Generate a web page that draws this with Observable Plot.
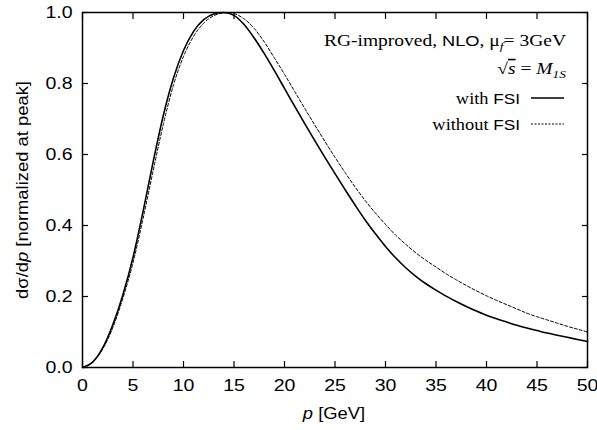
<!DOCTYPE html>
<html><head><meta charset="utf-8">
<script src="https://cdn.jsdelivr.net/npm/d3@7"></script>
<script src="https://cdn.jsdelivr.net/npm/@observablehq/plot@0.6"></script>
<style>body{margin:0;background:#fff}</style>
</head><body><div id="chart"></div>
<script>
const pWith = [0,1,2,3,4,5,6,7,8,9,10,11,12,13,14,15,16,17,18,19,20,21,22,23,24,25,26,27,28,29,30,31,32,33,34,35,36,37,38,39,40,41,42,43,44,45,46,47,48,49,50];
const vWith = [0,0.015,0.055,0.12,0.205,0.31,0.44,0.58,0.71,0.815,0.893,0.947,0.980,0.996,1.0,0.992,0.966,0.928,0.884,0.836,0.786,0.736,0.687,0.639,0.592,0.546,0.501,0.457,0.415,0.377,0.341,0.309,0.281,0.257,0.236,0.218,0.201,0.186,0.172,0.159,0.147,0.137,0.128,0.119,0.111,0.104,0.097,0.091,0.085,0.079,0.073];
const pWithout = [0,1,2,3,4,5,6,7,8,9,10,11,12,13,14,14.4,15,16,17,18,19,20,21,22,23,24,25,26,27,28,29,30,31,32,33,34,35,36,37,38,39,40,41,42,43,44,45,46,47,48,49,50];
const vWithout = [0,0.014,0.052,0.112,0.195,0.295,0.42,0.555,0.685,0.795,0.876,0.933,0.970,0.991,0.999,1.0,0.997,0.982,0.955,0.917,0.872,0.826,0.778,0.730,0.683,0.637,0.592,0.549,0.508,0.470,0.435,0.403,0.373,0.347,0.323,0.302,0.283,0.264,0.247,0.231,0.216,0.202,0.189,0.177,0.165,0.153,0.143,0.134,0.125,0.116,0.108,0.100];
const xTicks = [0,5,10,15,20,25,30,35,40,45,50];
const yTicks = [0,0.2,0.4,0.6,0.8,1.0];

const withFSI = pWith.map((p,i)=>({p, v:vWith[i]}));
const withoutFSI = pWithout.map((p,i)=>({p, v:vWithout[i]}));

const sans = "'Liberation Sans', Arial, sans-serif";
const serif = "'Liberation Serif', 'Times New Roman', serif";

const chart = Plot.plot({
  width: 597, height: 430,
  marginLeft: 82, marginRight: 10, marginTop: 12, marginBottom: 63,
  style: {fontFamily: sans, fontSize: "16px", color: "#000", background: "#fff"},
  x: {domain: [0,50]},
  y: {domain: [0,1]},
  marks: [
    Plot.axisX(xTicks, {anchor: "bottom", tickSize: -6, tickPadding: 18, fontSize: 16, label: null, strokeWidth: 1.2}),
    Plot.axisX(xTicks, {anchor: "top", tickSize: -6, tickFormat: () => "", label: null, strokeWidth: 1.2}),
    Plot.axisY(yTicks, {anchor: "left", tickSize: -6, tickPadding: 16, fontSize: 16, tickFormat: d3.format(".1f"), label: null, strokeWidth: 1.2}),
    Plot.axisY(yTicks, {anchor: "right", tickSize: -6, tickFormat: () => "", label: null, strokeWidth: 1.2}),
    Plot.line(withoutFSI, {x: "p", y: "v", stroke: "#000", strokeWidth: 1, strokeDasharray: "3,2", curve: "monotone-x"}),
    Plot.line(withFSI, {x: "p", y: "v", stroke: "#000", strokeWidth: 1.6, curve: "monotone-x"}),
    Plot.frame({stroke: "#000", strokeWidth: 1.5})
  ]
});
document.getElementById("chart").appendChild(chart);

const svg = d3.select(chart);
// stretch tick labels horizontally like the reference's wide glyphs
svg.selectAll('g[aria-label$="tick label"] text').each(function() {
  let x = 0, y = 0;
  const xs = this.getAttribute("x"), ys = this.getAttribute("y");
  if (xs != null && xs !== "" && isFinite(+xs)) { x = +xs; this.removeAttribute("x"); }
  if (ys != null && ys !== "" && isFinite(+ys)) { y = +ys; this.removeAttribute("y"); }
  const t = this.getAttribute("transform") || "";
  this.setAttribute("transform", `${t} translate(${x},${y}) scale(1.22,1)`);
});

function txt(x, y, s, extra = "") {
  return svg.append("text").attr("transform", `translate(${x},${y}) ${extra} scale(${s},1)`);
}

// axis labels
const xl = txt(334, 419, 1.15).attr("text-anchor", "middle").attr("font-family", sans).attr("font-size", 16);
xl.append("tspan").attr("font-style", "italic").text("p");
xl.append("tspan").text(" [GeV]");

const yl = txt(28, 190, 1.15, "rotate(-90)").attr("text-anchor", "middle").attr("font-family", sans).attr("font-size", 16);
yl.append("tspan").text("dσ/d");
yl.append("tspan").attr("font-style", "italic").text("p");
yl.append("tspan").text(" [normalized at peak]");

// annotation / legend
const t1 = txt(566, 46, 1.22).attr("text-anchor", "end").attr("font-family", serif).attr("font-size", 16);
t1.append("tspan").text("RG-improved, ");
t1.append("tspan").attr("font-family", sans).attr("font-size", 15).text("NLO");
t1.append("tspan").text(", μ");
t1.append("tspan").attr("font-size", 11).attr("font-style", "italic").attr("dy", 4).text("f");
t1.append("tspan").attr("dy", -4).text("= 3GeV");

const t2 = txt(566, 74, 1.22).attr("text-anchor", "end").attr("font-family", serif).attr("font-size", 16);
t2.append("tspan").text("√");
t2.append("tspan").attr("font-style", "italic").attr("text-decoration", "overline").text("s");
t2.append("tspan").text(" = ");
t2.append("tspan").attr("font-style", "italic").text("M");
t2.append("tspan").attr("font-style", "italic").attr("font-size", 11).attr("dy", 4).text("1S");

const t3 = txt(520, 104, 1.15).attr("text-anchor", "end").attr("font-size", 16);
t3.append("tspan").attr("font-family", serif).text("with ");
t3.append("tspan").attr("font-family", sans).attr("font-size", 15).text("FSI");
svg.append("line").attr("x1", 531).attr("x2", 564).attr("y1", 98).attr("y2", 98).attr("stroke", "#000").attr("stroke-width", 1.5);

const t4 = txt(520, 130, 1.15).attr("text-anchor", "end").attr("font-size", 16);
t4.append("tspan").attr("font-family", serif).text("without ");
t4.append("tspan").attr("font-family", sans).attr("font-size", 15).text("FSI");
svg.append("line").attr("x1", 531).attr("x2", 564).attr("y1", 124).attr("y2", 124).attr("stroke", "#000").attr("stroke-width", 1).attr("stroke-dasharray", "2,1.5");
</script></body></html>
